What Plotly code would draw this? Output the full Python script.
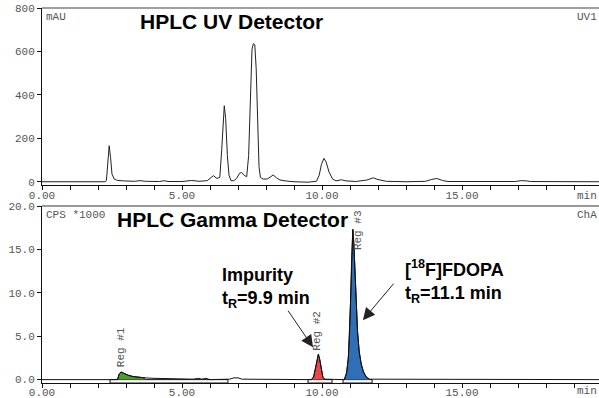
import plotly.graph_objects as go

# ---------------- data ----------------
uv_time = [0.0, 2.25, 2.30, 2.35, 2.40, 2.45, 2.50, 2.58, 2.70, 2.90, 3.30, 3.50, 3.70, 4.20, 4.36, 4.50,
           5.00, 5.35, 5.60, 5.90, 6.12, 6.25, 6.35, 6.42, 6.47, 6.51, 6.56, 6.62, 6.68, 6.75, 6.85,
           6.95, 7.05, 7.13, 7.22, 7.31, 7.38, 7.44, 7.50, 7.55, 7.60, 7.65, 7.70, 7.75, 7.80, 7.90,
           8.05, 8.15, 8.26, 8.38, 8.50, 8.74, 9.00, 9.50, 9.80, 9.90, 9.98, 10.07, 10.15, 10.25,
           10.38, 10.50, 10.70, 10.85, 11.20, 11.60, 11.83, 12.00, 12.30, 13.00, 13.70, 13.90, 14.10,
           14.30, 14.50, 16.90, 17.10, 17.30, 17.45, 19.90]
uv_mau = [0, 0, 5, 90, 166, 110, 35, 12, 6, 4, 2, 5, 2, 1, 5, 1,
          1, 6, 2, 5, 28, 15, 20, 150, 300, 350, 290, 120, 30, 5, 5,
          15, 38, 43, 30, 23, 120, 420, 610, 636, 630, 520, 250, 70, 20, 12,
          13, 22, 31, 18, 8, 3, 0, -2, 2, 30, 80, 108, 90, 45,
          12, 4, 9, 4, 1, 8, 18, 10, 2, 0, 2, 10, 15,
          6, 1, 1, 5, 4, 1, 0]

gamma_time = [0.0, 2.70, 2.75, 2.82, 2.90, 3.00, 3.10, 3.26, 3.45, 3.68, 4.00, 4.50, 5.00, 5.40,
              5.60, 5.70, 5.85, 6.00, 6.70, 6.85, 7.00, 7.15,
              9.62, 9.70, 9.76, 9.82, 9.87, 9.92, 9.97, 10.03, 10.10,
              10.80, 10.88, 10.94, 10.98, 11.02, 11.06, 11.10, 11.14, 11.18, 11.22, 11.27, 11.33,
              11.40, 11.48, 11.58, 11.70, 19.90]
gamma_kcps = [0, 0, 0.6, 0.88, 0.75, 0.6, 0.48, 0.35, 0.27, 0.2, 0.15, 0.1, 0.08, 0.05,
              0.15, 0.05, 0.15, 0.0, 0.05, 0.2, 0.2, 0.05,
              0, 0.3, 1.2, 2.4, 2.92, 2.3, 1.1, 0.3, 0.05,
              0, 0.8, 2.5, 5, 9, 14, 17.3, 15.5, 12, 8.5, 5.5, 3.2,
              1.8, 0.9, 0.3, 0.05, 0]

region_names = ["Reg #1", "Reg #2", "Reg #3"]
region_start = [2.43, 9.50, 10.75]
region_end = [6.64, 10.36, 11.79]
region_fill_from = [2.70, 9.62, 10.80]
region_fill_to = [3.68, 10.10, 11.70]

x_tick_vals = [0, 5, 10, 15]
x_tick_text = ["0.00", "5.00", "10.00", "15.00"]
uv_tick_vals = [0, 200, 400, 600, 800]
uv_tick_text = ["0", "200", "400", "600", "800"]
gm_tick_vals = [0, 5, 10, 15, 20]
gm_tick_text = ["0.0", "5.0", "10.0", "15.0", "20.0"]

# ---------------- styles ----------------
region_colors = ["#4d9b2b", "#e8474b", "#2f6fb8"]
MONO = "Liberation Mono"
SANS = "Liberation Sans"
GRAY = "#555555"

fig = go.Figure()

fig.add_trace(go.Scatter(x=uv_time, y=uv_mau, mode="lines", xaxis="x", yaxis="y",
                         line=dict(color="#222222", width=1), hoverinfo="skip"))

for i in range(len(region_names)):
    idx = [k for k, t in enumerate(gamma_time) if region_fill_from[i] <= t <= region_fill_to[i]]
    fig.add_trace(go.Scatter(x=[gamma_time[k] for k in idx], y=[gamma_kcps[k] for k in idx],
                             mode="lines", fill="tozeroy", fillcolor=region_colors[i],
                             line=dict(color="#111111", width=1), xaxis="x2", yaxis="y2",
                             hoverinfo="skip"))

fig.add_trace(go.Scatter(x=gamma_time, y=gamma_kcps, mode="lines", xaxis="x2", yaxis="y2",
                         line=dict(color="#111111", width=1), hoverinfo="skip"))

# region integration boxes
for i in range(len(region_names)):
    fig.add_shape(type="rect", xref="x2", yref="y2", x0=region_start[i], x1=region_end[i],
                  y0=-0.39, y1=0, fillcolor="white", line=dict(color="#111111", width=1),
                  layer="below")

axis_common = dict(showgrid=False, zeroline=False, showline=True, linecolor="#111111", linewidth=1,
                   ticks="outside", ticklen=4, tickcolor="#111111", automargin=False,
                   tickfont=dict(family=MONO, size=11, color=GRAY))
minor_ticks = dict(tick0=0, dtick=1, ticks="outside", ticklen=4, tickcolor="#111111",
                   showgrid=False)

fig.update_layout(
    width=599, height=398,
    margin=dict(l=42, r=0, t=8, b=15, autoexpand=False),
    paper_bgcolor="white", plot_bgcolor="white",
    showlegend=False,
    xaxis=dict(domain=[0, 1], anchor="y", range=[0, 19.893], tickmode="array",
               tickvals=x_tick_vals, ticktext=x_tick_text, ticklabelstandoff=-4,
               minor=minor_ticks, **axis_common),
    yaxis=dict(domain=[0.528, 1], anchor="x", range=[-15, 800], tickvals=uv_tick_vals,
               ticktext=uv_tick_text, **axis_common),
    xaxis2=dict(domain=[0, 1], anchor="y2", range=[0, 19.893], tickmode="array",
                tickvals=x_tick_vals, ticktext=x_tick_text, ticklabelstandoff=-5,
                minor=minor_ticks, **axis_common),
    yaxis2=dict(domain=[0, 0.472], anchor="x2", range=[-0.39, 20], tickvals=gm_tick_vals,
                ticktext=gm_tick_text, **axis_common),
)

# panel top borders
fig.add_shape(type="line", xref="x domain", yref="y domain", x0=0, x1=1, y0=1, y1=1,
              line=dict(color="#808080", width=1.5))
fig.add_shape(type="line", xref="x2 domain", yref="y2 domain", x0=0, x1=1, y0=1, y1=1,
              line=dict(color="#333333", width=1))

ann = []
def small(text, x, y, anchor="left"):
    ann.append(dict(text=text, xref="paper", yref="paper", x=x, y=y, xanchor=anchor,
                    yanchor="middle", showarrow=False,
                    font=dict(family=MONO, size=11, color=GRAY)))

small("mAU", 0.003, 0.976)
small("UV1", 1.0, 0.976, "right")
small("min", 1.0, 0.5, "right")
small("CPS *1000", 0.003, 0.448)
small("ChA", 1.0, 0.448, "right")
small("min", 1.0, -0.022, "right")

ann.append(dict(text="<b>HPLC UV Detector</b>", xref="x", yref="y", x=6.75, y=740,
                xanchor="center", yanchor="middle", showarrow=False,
                font=dict(family=SANS, size=21, color="black")))
ann.append(dict(text="<b>HPLC Gamma Detector</b>", xref="x2", yref="y2", x=6.79, y=18.5,
                xanchor="center", yanchor="middle", showarrow=False,
                font=dict(family=SANS, size=21, color="black")))

ann.append(dict(text="<b>Impurity<br>t<sub>R</sub>=9.9 min</b>", xref="x2", yref="y2", x=6.36,
                y=10.6, xanchor="left", yanchor="middle", align="left", showarrow=False,
                font=dict(family=SANS, size=18, color="black")))
ann.append(dict(text="<b>[<sup>18</sup>F]FDOPA<br>t<sub>R</sub>=11.1 min</b>", xref="x2",
                yref="y2", x=12.89, y=11.3, xanchor="left", yanchor="middle", align="left",
                showarrow=False, font=dict(family=SANS, size=18, color="black")))

# arrows (drawn as arrow shapes via annotations pointing at the peaks)
ann.append(dict(text="", xref="x2", yref="y2", x=9.68, y=3.73, ax=-26, ay=-38,
                showarrow=True, arrowhead=2, arrowsize=2.4, arrowwidth=1, arrowcolor="#222222",
                standoff=0))
ann.append(dict(text="", xref="x2", yref="y2", x=11.46, y=6.85, ax=32, ay=-38,
                showarrow=True, arrowhead=2, arrowsize=2.4, arrowwidth=1, arrowcolor="#222222",
                standoff=0))

# region labels
label_x = [2.82, 9.84, 11.29]
label_y = [3.73, 5.58, 17.24]
for i in range(len(region_names)):
    ann.append(dict(text=region_names[i], xref="x2", yref="y2", x=label_x[i], y=label_y[i],
                    xanchor="center", yanchor="middle", textangle=-90, showarrow=False,
                    font=dict(family=MONO, size=11, color=GRAY)))

fig.update_layout(annotations=ann)
fig.write_html("out.html", config={"displayModeBar": False},
               post_script="document.body.style.margin='0';document.body.style.overflow='hidden';")
